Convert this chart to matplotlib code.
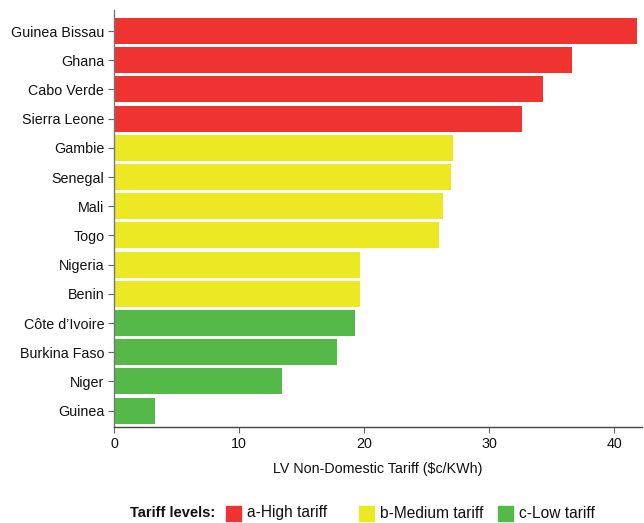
import matplotlib.pyplot as plt
from matplotlib.patches import Rectangle
import numpy as np

plt.rcParams['font.family'] = ['Liberation Sans', 'DejaVu Sans']

### Data
countries = ["Guinea Bissau", "Ghana", "Cabo Verde", "Sierra Leone", "Gambie", "Senegal",
             "Mali", "Togo", "Nigeria", "Benin", "Côte d’Ivoire", "Burkina Faso",
             "Niger", "Guinea"]
tariff = [41.8, 36.6, 34.3, 32.6, 27.1, 26.9, 26.3, 26.0, 19.7, 19.7, 19.3, 17.8, 13.4, 3.3]
level = ["a", "a", "a", "a", "b", "b", "b", "b", "b", "b", "c", "c", "c", "c"]

level_names = {"a": "a-High tariff", "b": "b-Medium tariff", "c": "c-Low tariff"}
level_colors = {"a": "#EE3331", "b": "#ECE824", "c": "#54B948"}

W, H = 644, 523
fig = plt.figure(figsize=(W / 100, H / 100), dpi=100)
ax = fig.add_axes([114 / W, 1 - 427 / H, (642 - 114) / W, (427 - 10) / H])

ypos = np.arange(len(countries))
ax.barh(ypos, tariff, height=0.89, color=[level_colors[l] for l in level])

ax.set_xlim(0, 42.2)
ax.set_ylim(13.56, -0.72)
ax.set_yticks(ypos)
ax.set_yticklabels(countries)
ax.set_xticks([0, 10, 20, 30, 40])
ax.tick_params(axis="both", labelsize=10.3, length=4, width=0.8, color="#666666", labelcolor="#111111")
ax.tick_params(axis="x", pad=3)
ax.tick_params(axis="y", pad=3)

for side in ["top", "right"]:
    ax.spines[side].set_visible(False)
ax.spines["left"].set_color("#777777")
ax.spines["bottom"].set_color("#444444")
ax.spines["left"].set_linewidth(1.0)
ax.spines["bottom"].set_linewidth(1.0)

ax.set_xlabel("LV Non-Domestic Tariff ($c/KWh)", fontsize=10.3, color="#111111", labelpad=8)

# legend row along the bottom, laid out in pixels
px = fig.transFigure.inverted()
def to_fig(x, y):
    return px.transform((x, H - y))

ly = 513
fig.text(*to_fig(130, ly), "Tariff levels:", fontsize=10.5, fontweight="bold",
         va="center", ha="left", color="#111111")
legend_x = {"a": 226, "b": 359, "c": 498}
for key in ["a", "b", "c"]:
    x0 = legend_x[key]
    fx, fy = to_fig(x0, ly + 7.5)
    fig.patches.append(Rectangle((fx, fy), 15 / W, 15 / H, transform=fig.transFigure,
                                 color=level_colors[key], figure=fig))
    fig.text(*to_fig(x0 + 21, ly), level_names[key], fontsize=11.2, va="center",
             ha="left", color="#111111")

fig.savefig("out.png", dpi=100)
